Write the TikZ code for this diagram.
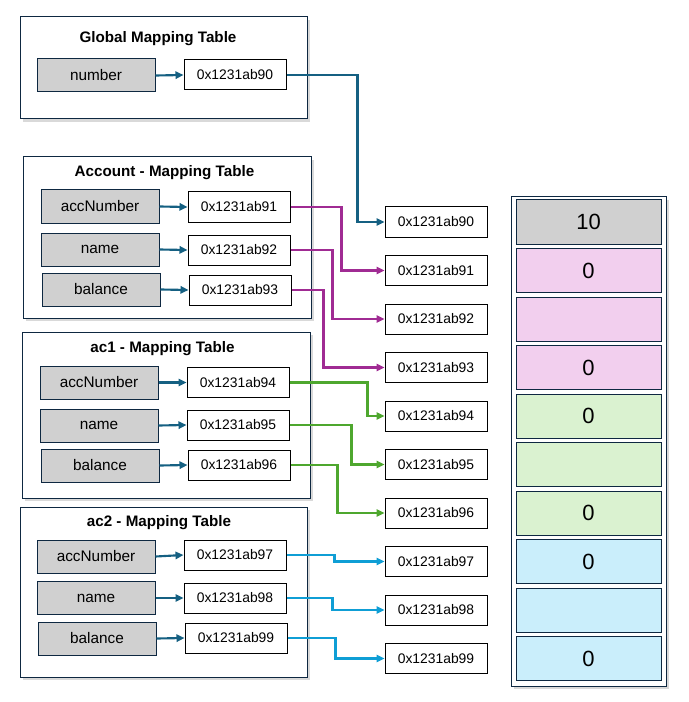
\documentclass[tikz,border=0pt]{standalone}
\usepackage{fontspec}
\setmainfont{Liberation Sans}
\usetikzlibrary{arrows.meta,shadows}

\definecolor{frameblue}{HTML}{0E2841}
\definecolor{keygray}{HTML}{D0D0D0}
\definecolor{linkteal}{HTML}{156082}
\definecolor{linkpurple}{HTML}{A02B93}
\definecolor{linkgreen}{HTML}{4EA72E}
\definecolor{linkblue}{HTML}{0F9ED5}
\definecolor{cellpink}{HTML}{F2CFEE}
\definecolor{cellgreen}{HTML}{DAF2D0}
\definecolor{cellblue}{HTML}{CAEEFB}

\tikzset{
  maptable/.style={draw=frameblue, line width=.75pt, fill=white, inner sep=0pt,
    drop shadow={shadow xshift=2pt, shadow yshift=-2pt, opacity=.3}},
  tabletitle/.style={font=\fontsize{11.4}{13}\selectfont\bfseries, inner sep=0pt},
  keybox/.style={draw=frameblue, line width=.75pt, fill=keygray, inner sep=0pt,
    minimum width=88.5pt, minimum height=24.75pt, font=\fontsize{11.5}{13}\selectfont},
  addrbox/.style={draw=black, line width=.75pt, fill=white, inner sep=0pt,
    minimum width=76.5pt, minimum height=22.5pt, font=\fontsize{10.4}{12}\selectfont},
  cellbox/.style={draw=frameblue, line width=.75pt, inner sep=0pt,
    minimum width=108.75pt, minimum height=33pt, font=\fontsize{16.5}{18}\selectfont},
  link/.style={line width=1.6pt, -{Triangle[length=6pt,width=5.5pt]}}
}

\begin{document}
\begin{tikzpicture}[x=0.75pt, y=-0.75pt]

  \useasboundingbox (0,0) rectangle (688,702);

  % mapping tables
  \node[maptable, minimum width=215.25pt, minimum height=76.5pt]  (global)  at (163.5,68)  {};
  \node[maptable, minimum width=216pt,    minimum height=120.75pt] (account) at (167,237.5) {};
  \node[maptable, minimum width=216pt,    minimum height=124.5pt]  (acone)   at (166,415)   {};
  \node[maptable, minimum width=215.25pt, minimum height=127.5pt]  (actwo)   at (163.5,592) {};

  % memory block
  \node[maptable, minimum width=116.25pt, minimum height=366.75pt] (memory) at (588.5,441.5) {};

  \node[tabletitle] (tglobal)  at (158,39)    {Global Mapping Table};
  \node[tabletitle] (taccount) at (164.5,173) {Account - Mapping Table};
  \node[tabletitle] (tacone)   at (162.5,349) {ac1 - Mapping Table};
  \node[tabletitle] (tactwo)   at (159,523)   {ac2 - Mapping Table};

  \node[keybox]  (gk)  at (96,75.5)   {number};
  \node[addrbox] (ga)  at (235,75)    {0x1231ab90};

  \node[keybox]  (ak1) at (100,206.5) {accNumber};
  \node[addrbox] (aa1) at (239,207)   {0x1231ab91};
  \node[keybox]  (ak2) at (100,249.5) {name};
  \node[addrbox] (aa2) at (239,250)   {0x1231ab92};
  \node[keybox]  (ak3) at (101,289.5) {balance};
  \node[addrbox] (aa3) at (240,290)   {0x1231ab93};

  \node[keybox]  (bk1) at (99,382.5)  {accNumber};
  \node[addrbox] (ba1) at (238,382.5) {0x1231ab94};
  \node[keybox]  (bk2) at (99,425.5)  {name};
  \node[addrbox] (ba2) at (238,425)   {0x1231ab95};
  \node[keybox]  (bk3) at (100,465.5) {balance};
  \node[addrbox] (ba3) at (239,465)   {0x1231ab96};

  \node[keybox]  (ck1) at (96,556.5)  {accNumber};
  \node[addrbox] (ca1) at (235,555)   {0x1231ab97};
  \node[keybox]  (ck2) at (96,598)    {name};
  \node[addrbox] (ca2) at (235,598)   {0x1231ab98};
  \node[keybox]  (ck3) at (97,638.5)  {balance};
  \node[addrbox] (ca3) at (236,638)   {0x1231ab99};

  % address column and memory cells
  \foreach \i in {0,...,9}
    \node[addrbox] (m\i) at (436,222+48.5*\i) {0x1231ab9\i};

  \foreach \i/\val/\col in {0/10/keygray, 1/0/cellpink, 2//cellpink, 3/0/cellpink,
      4/0/cellgreen, 5//cellgreen, 6/0/cellgreen, 7/0/cellblue, 8//cellblue, 9/0/cellblue}
    \node[cellbox, fill=\col] (c\i) at (588.5,222+48.5*\i) {\val};

  \draw[link, linkteal] (gk.east)  -- (ga.west);
  \draw[link, linkteal] (ak1.east) -- (aa1.west);
  \draw[link, linkteal] (ak2.east) -- (aa2.west);
  \draw[link, linkteal] (ak3.east) -- (aa3.west);
  \draw[link, linkteal] (bk1.east) -- (ba1.west);
  \draw[link, linkteal] (bk2.east) -- (ba2.west);
  \draw[link, linkteal] (bk3.east) -- (ba3.west);
  \draw[link, linkteal] (ck1.east) -- (ca1.west);
  \draw[link, linkteal] (ck2.east) -- (ca2.west);
  \draw[link, linkteal] (ck3.east) -- (ca3.west);
  \draw[link, linkteal] (ga.east) -| ([xshift=-20.25pt]m0.west) -- (m0.west);

  \draw[link, linkpurple] (aa1.east) -| ([xshift=-32.25pt]m1.west) -- (m1.west);
  \draw[link, linkpurple] (aa2.east) -| ([xshift=-39pt]m2.west)    -- (m2.west);
  \draw[link, linkpurple] (aa3.east) -| ([xshift=-45.75pt]m3.west) -- (m3.west);

  \draw[link, linkgreen] (ba1.east) -| ([xshift=-12.75pt]m4.west) -- (m4.west);
  \draw[link, linkgreen] (ba2.east) -| ([xshift=-24.75pt]m5.west) -- (m5.west);
  \draw[link, linkgreen] (ba3.east) -| ([xshift=-35.25pt]m6.west) -- (m6.west);

  \draw[link, linkblue] (ca1.east) -| ([xshift=-37.5pt]m7.west)  -- (m7.west);
  \draw[link, linkblue] (ca2.east) -| ([xshift=-39pt]m8.west)    -- (m8.west);
  \draw[link, linkblue] (ca3.east) -| ([xshift=-36.75pt]m9.west) -- (m9.west);

\end{tikzpicture}
\end{document}
